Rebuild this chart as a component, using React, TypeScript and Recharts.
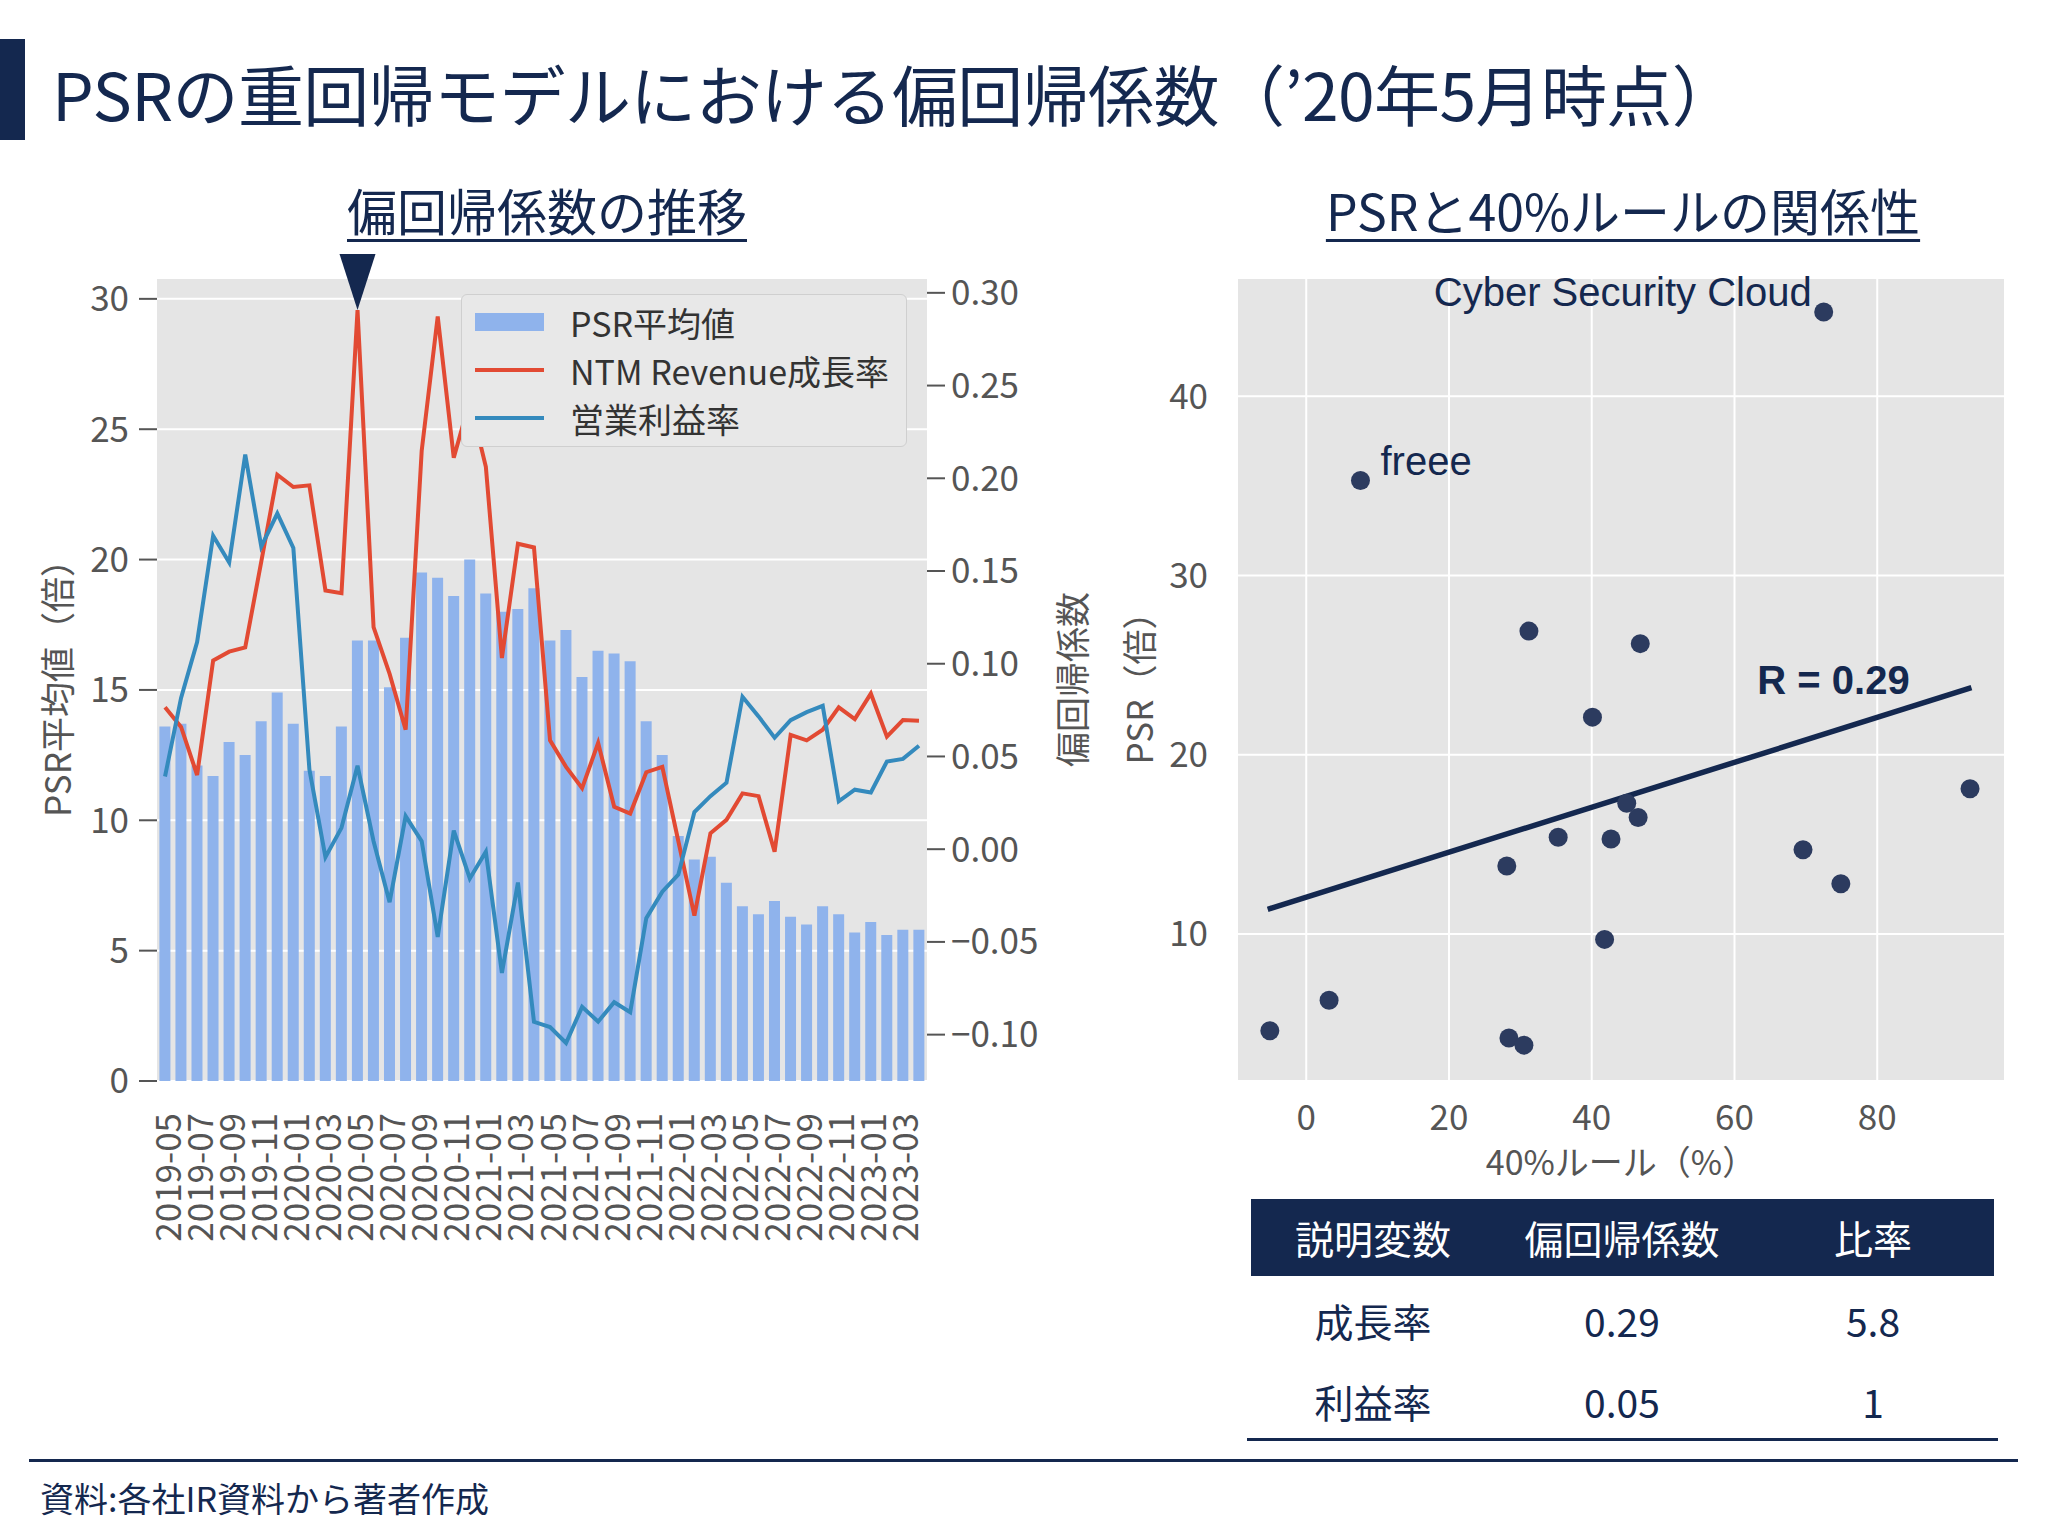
import React from "react";
import {
  Bar,
  CartesianGrid,
  ComposedChart,
  Legend,
  Line,
  ReferenceDot,
  ReferenceLine,
  Scatter,
  ScatterChart,
  XAxis,
  YAxis,
} from "recharts";

const NAVY = "#14284f";
const DOT = "#2c3b5f";
const GRAY = "#555";
const BG = "#e5e5e5";
const FONT = '"Noto Sans CJK JP", "Noto Sans", sans-serif';
const LATIN = '"Liberation Sans", Arial, sans-serif';

// 月次ラベル (2019-05 .. 2023-04)
const months = [
  "2019-05", "2019-06", "2019-07", "2019-08", "2019-09", "2019-10", "2019-11", "2019-12",
  "2020-01", "2020-02", "2020-03", "2020-04", "2020-05", "2020-06", "2020-07", "2020-08",
  "2020-09", "2020-10", "2020-11", "2020-12", "2021-01", "2021-02", "2021-03", "2021-04",
  "2021-05", "2021-06", "2021-07", "2021-08", "2021-09", "2021-10", "2021-11", "2021-12",
  "2022-01", "2022-02", "2022-03", "2022-04", "2022-05", "2022-06", "2022-07", "2022-08",
  "2022-09", "2022-10", "2022-11", "2022-12", "2023-01", "2023-02", "2023-03", "2023-04",
];

// PSR平均値（倍）
const psrAvg = [
  13.6, 13.7, 12.1, 11.7, 13.0, 12.5, 13.8, 14.9, 13.7, 11.9, 11.7, 13.6,
  16.9, 16.9, 15.1, 17.0, 19.5, 19.3, 18.6, 20.0, 18.7, 18.0, 18.1, 18.9,
  16.9, 17.3, 15.5, 16.5, 16.4, 16.1, 13.8, 12.5, 9.4, 8.5, 8.6, 7.6,
  6.7, 6.4, 6.9, 6.3, 6.0, 6.7, 6.4, 5.7, 6.1, 5.6, 5.8, 5.8,
];

// NTM Revenue成長率の偏回帰係数
const growthCoef = [
  0.0765, 0.0659, 0.040, 0.1017, 0.1065, 0.1088, 0.155, 0.2019, 0.1953, 0.1962, 0.1395, 0.138,
  0.2907, 0.1197, 0.0945, 0.0644, 0.2148, 0.2872, 0.2111, 0.242, 0.2062, 0.1031, 0.1647, 0.1627,
  0.0587, 0.0444, 0.0329, 0.0573, 0.0229, 0.0192, 0.0415, 0.0444, 0.0043, -0.0358, 0.0086, 0.0158,
  0.0301, 0.0286, -0.0014, 0.0616, 0.0587, 0.0644, 0.0765, 0.0702, 0.0839, 0.0607, 0.0696, 0.0693,
];

// 営業利益率の偏回帰係数
const marginCoef = [
  0.0392, 0.0816, 0.1117, 0.169, 0.1546, 0.2128, 0.1632, 0.181, 0.1624, 0.043, -0.0043, 0.0115,
  0.045, 0.0043, -0.0286, 0.0178, 0.0043, -0.0473, 0.01, -0.0158, -0.0014, -0.0667, -0.018, -0.0931,
  -0.0959, -0.1045, -0.085, -0.093, -0.0825, -0.0879, -0.0372, -0.0229, -0.0137, 0.02, 0.0286, 0.0358,
  0.0822, 0.0716, 0.0601, 0.0696, 0.0739, 0.0773, 0.0258, 0.0321, 0.0306, 0.0473, 0.0487, 0.0558,
];

const psrTicks = [0, 5, 10, 15, 20, 25, 30];
const coefTicks = [-0.1, -0.05, 0, 0.05, 0.1, 0.15, 0.2, 0.25, 0.3];
const markedMonth = "2020-05";

// 40%ルール vs PSR
const rule40 = [-5.1, 3.2, 7.6, 28.1, 28.4, 30.5, 31.2, 35.3, 40.1, 41.8, 42.7, 44.9, 46.5, 46.8, 69.6, 74.9, 72.5, 93.0];
const psrCompany = [4.6, 6.3, 35.3, 13.8, 4.2, 3.8, 26.9, 15.4, 22.1, 9.7, 15.3, 17.3, 16.5, 26.2, 14.7, 12.8, 44.7, 18.1];
const fitStart = { x: -5.4, y: 11.38 };
const fitEnd = { x: 93.2, y: 23.74 };
const ruleTicks = [0, 20, 40, 60, 80];
const psrScatterTicks = [10, 20, 30, 40];

const tableHead = ["説明変数", "偏回帰係数", "比率"];
const tableRows = [
  ["成長率", "0.29", "5.8"],
  ["利益率", "0.05", "1"],
];

const trendData = months.map((m, i) => ({
  month: m,
  psr: psrAvg[i],
  growth: growthCoef[i],
  margin: marginCoef[i],
}));
const scatterData = rule40.map((x, i) => ({ x, y: psrCompany[i] }));

const fmtCoef = (v: number) => (v < 0 ? "\u2212" + Math.abs(v).toFixed(2) : v.toFixed(2));

function MonthTick({ x, y, payload }: any) {
  return (
    <text
      x={x}
      y={y}
      transform={`rotate(-90 ${x} ${y})`}
      textAnchor="end"
      dominantBaseline="central"
      fill={GRAY}
      fontSize={35}
      fontFamily={FONT}
    >
      {payload.value}
    </text>
  );
}

function Marker({ cx, cy }: any) {
  return <polygon points={`${cx - 18},${cy - 56} ${cx + 18},${cy - 56} ${cx},${cy}`} fill={NAVY} />;
}

function LegendBox() {
  const items = [
    { label: "PSR平均値", kind: "bar", color: "#8fb3ec" },
    { label: "NTM Revenue成長率", kind: "line", color: "#e24a33" },
    { label: "営業利益率", kind: "line", color: "#348abd" },
  ];
  return (
    <div
      style={{
        width: 446,
        height: 153,
        background: "#e8e8e8",
        border: "1.5px solid #cfcfcf",
        borderRadius: 6,
        boxSizing: "border-box",
        paddingTop: 3,
      }}
    >
      {items.map((it) => (
        <div key={it.label} style={{ display: "flex", alignItems: "center", height: 48 }}>
          <div style={{ width: 13 }} />
          <div style={{ width: 69, height: it.kind === "bar" ? 18 : 4, background: it.color }} />
          <div style={{ width: 26 }} />
          <span style={{ fontFamily: FONT, fontSize: 34, color: "#333", whiteSpace: "nowrap" }}>{it.label}</span>
        </div>
      ))}
    </div>
  );
}

function Dot({ cx, cy }: any) {
  return <circle cx={cx} cy={cy} r={9.5} fill={DOT} />;
}

function Annot({ cx, cy, text, dx, dy, anchor, bold }: any) {
  return (
    <text
      x={cx + dx}
      y={cy + dy}
      textAnchor={anchor}
      dominantBaseline="central"
      fill={NAVY}
      fontSize={40}
      fontWeight={bold ? 700 : 400}
      fontFamily={LATIN}
    >
      {text}
    </text>
  );
}

export default function App() {
  const tickStyle = { fill: GRAY, fontSize: 35, fontFamily: FONT };
  return (
    <div
      style={{
        position: "absolute",
        left: 0,
        top: 0,
        width: 2048,
        height: 1536,
        background: "#fff",
        fontFamily: FONT,
        overflow: "hidden",
      }}
    >
      {/* 見出し */}
      <div style={{ position: "absolute", left: 0, top: 39, width: 25, height: 101, background: NAVY }} />
      <div
        style={{
          position: "absolute",
          left: 52,
          top: 50,
          height: 84,
          lineHeight: "84px",
          fontSize: 66,
          color: NAVY,
          whiteSpace: "nowrap",
          letterSpacing: -0.6,
        }}
      >
        PSRの重回帰モデルにおける偏回帰係数（’20年5月時点）
      </div>

      <div
        style={{
          position: "absolute",
          left: 347,
          width: 400,
          top: 176,
          textAlign: "center",
          fontSize: 50,
          lineHeight: "66px",
          color: NAVY,
          textDecoration: "underline",
          textUnderlineOffset: 8,
          textDecorationThickness: 3,
          whiteSpace: "nowrap",
        }}
      >
        偏回帰係数の推移
      </div>
      <div
        style={{
          position: "absolute",
          left: 1323,
          width: 600,
          top: 176,
          textAlign: "center",
          fontSize: 50,
          lineHeight: "66px",
          color: NAVY,
          textDecoration: "underline",
          textUnderlineOffset: 8,
          textDecorationThickness: 3,
          whiteSpace: "nowrap",
        }}
      >
        PSRと40%ルールの関係性
      </div>

      {/* 左: 偏回帰係数の推移 */}
      <div style={{ position: "absolute", left: 0, top: 200 }}>
        <ComposedChart
          width={1100}
          height={1110}
          data={trendData}
          margin={{ top: 78, right: 0, bottom: 9, left: 0 }}
          barCategoryGap="15%"
        >
          <CartesianGrid yAxisId="psr" vertical={false} stroke="#fff" strokeWidth={2} fill={BG} />
          <XAxis
            dataKey="month"
            interval={1}
            height={220}
            tickLine={false}
            axisLine={false}
            tickSize={0}
            tickMargin={32}
            tick={<MonthTick />}
          />
          <YAxis
            yAxisId="psr"
            orientation="left"
            width={157}
            domain={[0, 30.8]}
            ticks={psrTicks}
            allowDataOverflow
            axisLine={false}
            tickSize={18}
            tickMargin={10}
            tickLine={{ stroke: GRAY, strokeWidth: 2 }}
            tick={tickStyle}
            label={{
              value: "PSR平均値（倍）",
              angle: -90,
              position: "center",
              dx: -20,
              fill: GRAY,
              fontSize: 35,
              fontFamily: FONT,
            }}
          />
          <YAxis
            yAxisId="coef"
            orientation="right"
            width={173}
            domain={[-0.125, 0.308]}
            ticks={coefTicks}
            allowDataOverflow
            axisLine={false}
            tickSize={18}
            tickMargin={6}
            tickLine={{ stroke: GRAY, strokeWidth: 2 }}
            tick={tickStyle}
            tickFormatter={fmtCoef}
            label={{
              value: "偏回帰係数",
              angle: -90,
              position: "center",
              dx: 60,
              fill: GRAY,
              fontSize: 35,
              fontFamily: FONT,
            }}
          />
          <Bar yAxisId="psr" dataKey="psr" fill="#8fb3ec" isAnimationActive={false} />
          <Line
            yAxisId="coef"
            type="linear"
            dataKey="growth"
            stroke="#e24a33"
            strokeWidth={4}
            dot={false}
            isAnimationActive={false}
          />
          <Line
            yAxisId="coef"
            type="linear"
            dataKey="margin"
            stroke="#348abd"
            strokeWidth={4}
            dot={false}
            isAnimationActive={false}
          />
          <ReferenceDot
            yAxisId="coef"
            x={markedMonth}
            y={growthCoef[months.indexOf(markedMonth)]}
            ifOverflow="visible"
            shape={<Marker />}
          />
          <Legend
            layout="vertical"
            verticalAlign="middle"
            align="center"
            content={<LegendBox />}
            wrapperStyle={{ position: "absolute", left: 461, top: 94, width: 446, height: 153 }}
          />
        </ComposedChart>
      </div>

      {/* 右: PSRと40%ルール */}
      <div style={{ position: "absolute", left: 1100, top: 200 }}>
        <ScatterChart width={948} height={1000} margin={{ top: 78, right: 43, bottom: 0, left: 0 }}>
          <CartesianGrid stroke="#fff" strokeWidth={2} fill={BG} />
          <XAxis
            type="number"
            dataKey="x"
            domain={[-9.7, 97.9]}
            ticks={ruleTicks}
            allowDataOverflow
            height={119}
            axisLine={false}
            tickLine={false}
            tickSize={0}
            tickMargin={24}
            tick={tickStyle}
            label={{
              value: "40%ルール（%）",
              position: "center",
              dy: 22,
              fill: GRAY,
              fontSize: 34,
              fontFamily: FONT,
            }}
          />
          <YAxis
            type="number"
            dataKey="y"
            domain={[1.8, 46.6]}
            ticks={psrScatterTicks}
            allowDataOverflow
            width={137}
            axisLine={false}
            tickLine={false}
            tickSize={0}
            tickMargin={29}
            tick={tickStyle}
            label={{
              value: "PSR（倍）",
              angle: -90,
              position: "center",
              dx: -28,
              fill: GRAY,
              fontSize: 35,
              fontFamily: FONT,
            }}
          />
          <ReferenceLine segment={[fitStart, fitEnd]} stroke={NAVY} strokeWidth={5.5} ifOverflow="visible" />
          <Scatter data={scatterData} fill={DOT} shape={<Dot />} isAnimationActive={false} />
          <ReferenceDot
            x={rule40[16]}
            y={psrCompany[16]}
            ifOverflow="visible"
            shape={<Annot text="Cyber Security Cloud" dx={-12} dy={-20} anchor="end" />}
          />
          <ReferenceDot
            x={rule40[2]}
            y={psrCompany[2]}
            ifOverflow="visible"
            shape={<Annot text="freee" dx={20} dy={-20} anchor="start" />}
          />
          <ReferenceDot
            x={63.2}
            y={24.2}
            ifOverflow="visible"
            shape={<Annot text="R = 0.29" dx={0} dy={0} anchor="start" bold />}
          />
        </ScatterChart>
      </div>

      {/* 表 */}
      <div style={{ position: "absolute", left: 1251, top: 1199, width: 743 }}>
        <div style={{ display: "flex", height: 77, background: NAVY, alignItems: "center" }}>
          {tableHead.map((h, i) => (
            <div
              key={h}
              style={{
                position: "absolute",
                left: [122, 371, 622][i] - 150,
                width: 300,
                textAlign: "center",
                color: "#fff",
                fontSize: 39,
                lineHeight: "77px",
                top: 0,
              }}
            >
              {h}
            </div>
          ))}
        </div>
        {tableRows.map((r, ri) => (
          <div key={r[0]} style={{ position: "absolute", top: 91 + ri * 81, height: 60, width: 743 }}>
            {r.map((c, i) => (
              <div
                key={i}
                style={{
                  position: "absolute",
                  left: [122, 371, 622][i] - 150,
                  width: 300,
                  textAlign: "center",
                  color: NAVY,
                  fontSize: 39,
                  lineHeight: "60px",
                }}
              >
                {c}
              </div>
            ))}
          </div>
        ))}
      </div>
      <div style={{ position: "absolute", left: 1247, top: 1438, width: 751, height: 3, background: NAVY }} />

      {/* 出所 */}
      <div style={{ position: "absolute", left: 29, top: 1459, width: 1989, height: 3, background: NAVY }} />
      <div
        style={{
          position: "absolute",
          left: 40,
          top: 1477,
          fontSize: 34,
          lineHeight: "42px",
          color: NAVY,
          whiteSpace: "nowrap",
        }}
      >
        資料:各社IR資料から著者作成
      </div>
    </div>
  );
}
